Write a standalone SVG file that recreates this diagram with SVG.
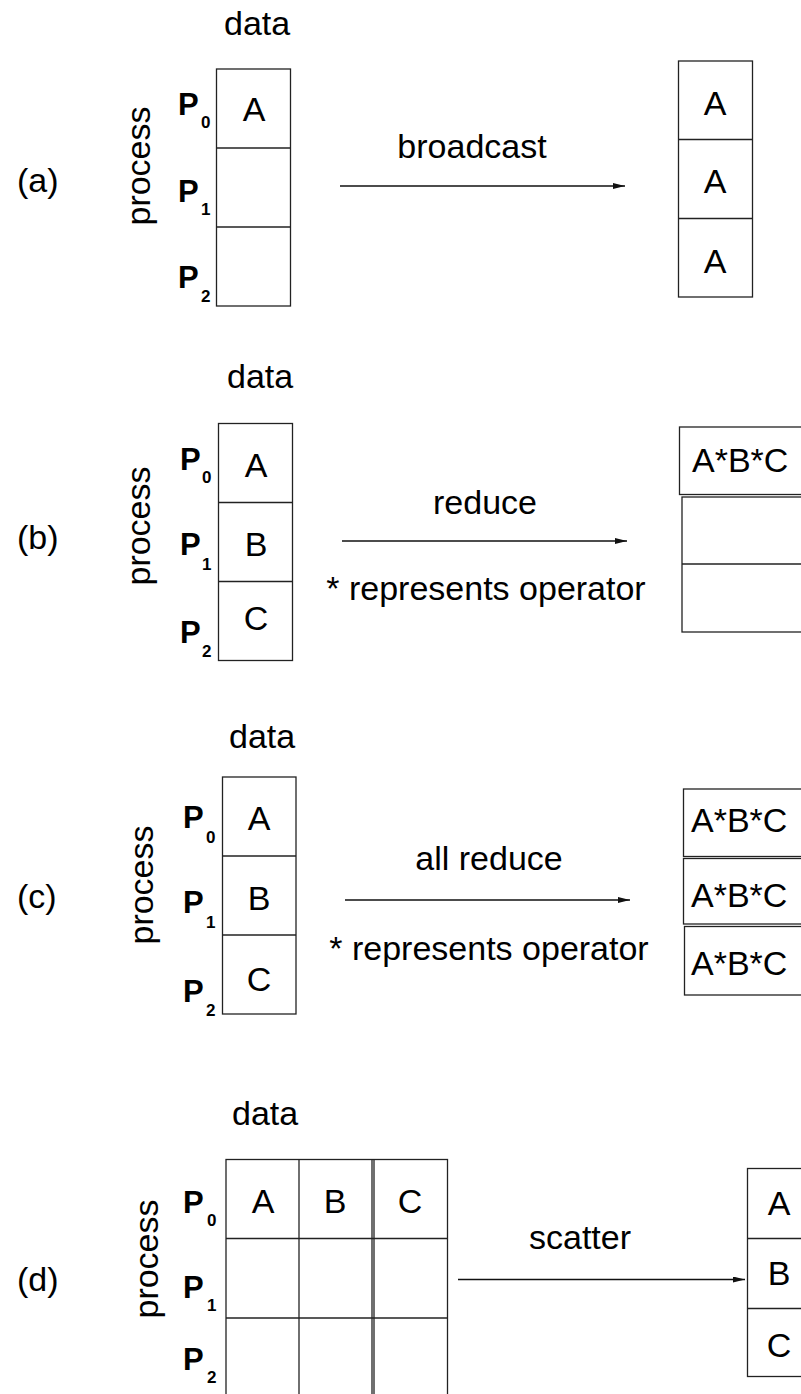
<svg xmlns="http://www.w3.org/2000/svg" width="801" height="1394" viewBox="0 0 801 1394">
<style>
text{font-family:"Liberation Sans",Arial,sans-serif;fill:#000}
.t{font-size:34px}
.m{text-anchor:middle}
.p{font-size:31px;font-weight:bold}
.s{font-size:17px;font-weight:bold}
.c{fill:#fff;stroke:#222;stroke-width:1.3}
.l{stroke:#222;stroke-width:1.3;fill:none}
.a{stroke:#111;stroke-width:1.3;fill:none;marker-end:url(#ah)}
</style>
<defs>
<marker id="ah" markerUnits="userSpaceOnUse" markerWidth="14" markerHeight="8" refX="12" refY="3" orient="auto">
<path d="M0,0 L12,3 L0,6 z" fill="#111"/>
</marker>
</defs>
<rect width="801" height="1394" fill="#fff"/>

<g id="labels">
<text class="t" x="17" y="192">(a)</text>
<text class="t" x="17" y="549">(b)</text>
<text class="t" x="17" y="908">(c)</text>
<text class="t" x="17" y="1291">(d)</text>
</g>

<g id="a-src">
<text class="t" x="224" y="35">data</text>
<text class="t m" transform="translate(150,166) rotate(-90)">process</text>
<text class="p" x="178" y="115">P</text><text class="s" x="201" y="128">0</text>
<text class="p" x="178" y="202">P</text><text class="s" x="201" y="215">1</text>
<text class="p" x="178" y="288">P</text><text class="s" x="201" y="302">2</text>
<rect class="c" x="216.5" y="69" width="74" height="237"/>
<line class="l" x1="216.5" y1="148" x2="290.5" y2="148"/>
<line class="l" x1="216.5" y1="227" x2="290.5" y2="227"/>
<text class="t m" x="254" y="121">A</text>
</g>
<g id="a-dst">
<rect class="c" x="678.5" y="61" width="74" height="236"/>
<line class="l" x1="678.5" y1="139.5" x2="752.5" y2="139.5"/>
<line class="l" x1="678.5" y1="218.5" x2="752.5" y2="218.5"/>
<text class="t m" x="715" y="115">A</text>
<text class="t m" x="715" y="193">A</text>
<text class="t m" x="715" y="273">A</text>
</g>

<g id="b-src">
<text class="t" x="227" y="388">data</text>
<text class="t m" transform="translate(150,526) rotate(-90)">process</text>
<text class="p" x="180" y="470">P</text><text class="s" x="202" y="483">0</text>
<text class="p" x="180" y="555">P</text><text class="s" x="202" y="570">1</text>
<text class="p" x="180" y="643">P</text><text class="s" x="202" y="657">2</text>
<rect class="c" x="218.5" y="423.5" width="74" height="237"/>
<line class="l" x1="218.5" y1="502.5" x2="292.5" y2="502.5"/>
<line class="l" x1="218.5" y1="581.5" x2="292.5" y2="581.5"/>
<text class="t m" x="256" y="477">A</text>
<text class="t m" x="256" y="556">B</text>
<text class="t m" x="256" y="630">C</text>
</g>
<g id="b-dst">
<rect class="c" x="679.5" y="427" width="140" height="67.5"/>
<rect class="c" x="682" y="497" width="140" height="135"/>
<line class="l" x1="682" y1="564" x2="810" y2="564"/>
<text class="t" x="692" y="472">A*B*C</text>
</g>

<g id="c-src">
<text class="t" x="229" y="748">data</text>
<text class="t m" transform="translate(153,885) rotate(-90)">process</text>
<text class="p" x="183" y="828">P</text><text class="s" x="206" y="843">0</text>
<text class="p" x="183" y="913">P</text><text class="s" x="206" y="928">1</text>
<text class="p" x="183" y="1002">P</text><text class="s" x="206" y="1016">2</text>
<rect class="c" x="222.5" y="777" width="73.5" height="237"/>
<line class="l" x1="222.5" y1="856" x2="296" y2="856"/>
<line class="l" x1="222.5" y1="935" x2="296" y2="935"/>
<text class="t m" x="259" y="830">A</text>
<text class="t m" x="259" y="910">B</text>
<text class="t m" x="259" y="991">C</text>
</g>
<g id="c-dst">
<rect class="c" x="683.5" y="789" width="140" height="67.5"/>
<rect class="c" x="683.5" y="858.5" width="140" height="65.5"/>
<rect class="c" x="684.5" y="926.5" width="140" height="68.5"/>
<text class="t" x="691" y="832">A*B*C</text>
<text class="t" x="691" y="907">A*B*C</text>
<text class="t" x="691" y="975">A*B*C</text>
</g>

<g id="d-src">
<text class="t" x="232" y="1125">data</text>
<text class="t m" transform="translate(158,1259) rotate(-90)">process</text>
<text class="p" x="183" y="1213">P</text><text class="s" x="207" y="1226">0</text>
<text class="p" x="183" y="1298">P</text><text class="s" x="207" y="1311">1</text>
<text class="p" x="183" y="1370">P</text><text class="s" x="207" y="1383">2</text>
<rect class="c" x="226" y="1159.5" width="221.5" height="260"/>
<line class="l" x1="299" y1="1159.5" x2="299" y2="1400"/>
<line class="l" x1="372" y1="1159.5" x2="372" y2="1400"/>
<line class="l" x1="374" y1="1159.5" x2="374" y2="1400"/>
<line class="l" x1="226" y1="1238.5" x2="447.5" y2="1238.5"/>
<line class="l" x1="226" y1="1318" x2="447.5" y2="1318"/>
<text class="t m" x="263" y="1213">A</text>
<text class="t m" x="335" y="1213">B</text>
<text class="t m" x="410" y="1213">C</text>
</g>
<g id="d-dst">
<rect class="c" x="747.5" y="1168.5" width="80" height="208"/>
<line class="l" x1="747.5" y1="1238.5" x2="810" y2="1238.5"/>
<line class="l" x1="747.5" y1="1308.5" x2="810" y2="1308.5"/>
<text class="t m" x="779" y="1215">A</text>
<text class="t m" x="779" y="1285">B</text>
<text class="t m" x="779" y="1357">C</text>
</g>

<g id="connectors">
<line class="a" x1="340" y1="186" x2="625" y2="186"/>
<line class="a" x1="342" y1="541" x2="627" y2="541"/>
<line class="a" x1="345" y1="900" x2="630" y2="900"/>
<line class="a" x1="458" y1="1279.5" x2="745" y2="1279.5"/>
<text class="t m" x="472" y="158">broadcast</text>
<text class="t m" x="485" y="514">reduce</text>
<text class="t m" x="486" y="600">* represents operator</text>
<text class="t m" x="489" y="870">all reduce</text>
<text class="t m" x="489" y="960">* represents operator</text>
<text class="t m" x="580" y="1249">scatter</text>
</g>
</svg>
